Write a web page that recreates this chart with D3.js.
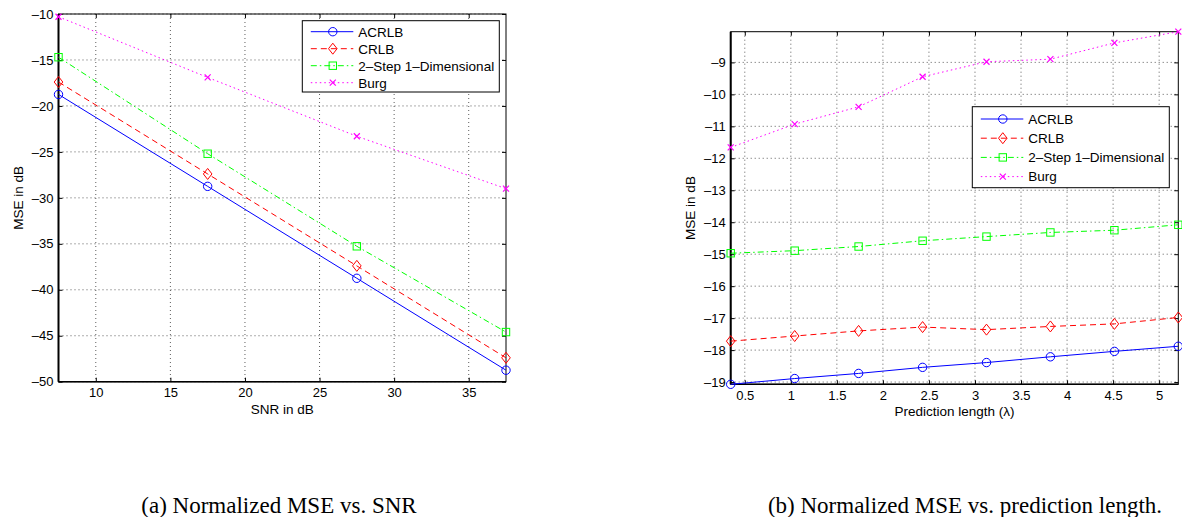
<!DOCTYPE html>
<html><head><meta charset="utf-8">
<script src="https://cdn.jsdelivr.net/npm/d3@7"></script>
<style>
body{margin:0;background:#fff}
svg{display:block}
text{font-family:"Liberation Sans",Arial,Helvetica,sans-serif;fill:#000}
</style>
</head><body>
<svg id="c" width="1182" height="517"></svg>
<script>
// ---------- data ----------
const seriesNames = ["ACRLB", "CRLB", "2\u2013Step 1\u2013Dimensional", "Burg"];

// panel (a): MSE vs SNR
const snr      = [7.5, 17.5, 27.5, 37.5];
const aAcrlb   = [-18.75, -28.75, -38.75, -48.75];
const aCrlb    = [-17.4, -27.4, -37.4, -47.4];
const aTwoStep = [-14.7, -25.2, -35.27, -44.6];
const aBurg    = [-10.3, -16.9, -23.3, -29.0];
const aXTicks  = [10, 15, 20, 25, 30, 35];
const aYTicks  = [-50, -45, -40, -35, -30, -25, -20, -15, -10];
const aYDomain = [-50, -10];

// panel (b): MSE vs prediction length
const lambda   = [0.347, 1.042, 1.736, 2.431, 3.125, 3.819, 4.514, 5.208];
const bAcrlb   = [-19.07, -18.89, -18.73, -18.54, -18.39, -18.21, -18.04, -17.88];
const bCrlb    = [-17.72, -17.56, -17.40, -17.28, -17.36, -17.26, -17.18, -16.98];
const bTwoStep = [-14.97, -14.89, -14.76, -14.58, -14.45, -14.32, -14.25, -14.08];
const bBurg    = [-11.66, -10.93, -10.39, -9.45, -8.98, -8.90, -8.39, -8.04];
const bXTicks  = [0.5, 1, 1.5, 2, 2.5, 3, 3.5, 4, 4.5, 5];
const bYTicks  = [-19, -18, -17, -16, -15, -14, -13, -12, -11, -10, -9];

const captions = ["(a) Normalized MSE vs. SNR", "(b) Normalized MSE vs. prediction length."];
const yLabel = "MSE in dB";
const xLabels = ["SNR in dB", "Prediction length (\u03bb)"];

// ---------- styles ----------
const colors  = ["#0000ff", "#ff0000", "#00ff00", "#ff00ff"];
const dashes  = [null, "6,4", "6,3,1.5,3", "1.5,3"];
const markers = ["circle", "diamond", "square", "x"];

const svg = d3.select("#c");
const fmt = d => String(d).replace("-", "\u2013");

function drawMarker(g, type, cx, cy, color) {
  if (type === "circle") {
    g.append("circle").attr("cx", cx).attr("cy", cy).attr("r", 4.2)
      .attr("fill", "none").attr("stroke", color).attr("stroke-width", 1);
  } else if (type === "diamond") {
    g.append("path").attr("d", `M${cx},${cy-5.5}L${cx+4.3},${cy}L${cx},${cy+5.5}L${cx-4.3},${cy}Z`)
      .attr("fill", "none").attr("stroke", color).attr("stroke-width", 1);
  } else if (type === "square") {
    g.append("rect").attr("x", cx-3.7).attr("y", cy-3.7).attr("width", 7.4).attr("height", 7.4)
      .attr("fill", "none").attr("stroke", color).attr("stroke-width", 1);
  } else {
    g.append("path").attr("d", `M${cx-3},${cy-3}L${cx+3},${cy+3}M${cx-3},${cy+3}L${cx+3},${cy-3}`)
      .attr("fill", "none").attr("stroke", color).attr("stroke-width", 1.2);
  }
}

function panel(cfg) {
  const {left, top, width, height, xs, ys, xDomain, yDomain, xTicks, yTicks, legend, xLabel, yLabelX, xLabelY, caption, captionX} = cfg;
  const x = d3.scaleLinear().domain(xDomain).range([left, left + width]);
  const y = d3.scaleLinear().domain(yDomain).range([top + height, top]);
  const g = svg.append("g");

  // grid
  const grid = g.append("g").attr("stroke", "#333").attr("stroke-width", 0.8).attr("stroke-dasharray", "1,3");
  xTicks.forEach(t => grid.append("line").attr("x1", x(t)).attr("x2", x(t)).attr("y1", top).attr("y2", top + height));
  yTicks.forEach(t => grid.append("line").attr("y1", y(t)).attr("y2", y(t)).attr("x1", left).attr("x2", left + width));

  // axes (inward ticks, all four sides)
  const ax = (gen, tr) => {
    const a = g.append("g").attr("transform", tr).call(gen);
    a.select(".domain").remove();
    a.selectAll("line").attr("stroke", "#000");
    a.selectAll("text").style("font-size", "13px").style("font-family", '"Liberation Sans",Arial,sans-serif');
    return a;
  };
  ax(d3.axisBottom(x).tickValues(xTicks).tickFormat(fmt).tickSizeInner(-4).tickSizeOuter(0).tickPadding(6), `translate(0,${top + height})`);
  ax(d3.axisTop(x).tickValues(xTicks).tickFormat("").tickSizeInner(-4).tickSizeOuter(0), `translate(0,${top})`);
  ax(d3.axisLeft(y).tickValues(yTicks).tickFormat(fmt).tickSizeInner(-4).tickSizeOuter(0).tickPadding(5), `translate(${left},0)`);
  ax(d3.axisRight(y).tickValues(yTicks).tickFormat("").tickSizeInner(-4).tickSizeOuter(0), `translate(${left + width},0)`);

  // box
  g.append("rect").attr("x", left).attr("y", top).attr("width", width).attr("height", height)
    .attr("fill", "none").attr("stroke", "#000").attr("stroke-width", 1);
  g.append("line").attr("x1", left).attr("x2", left).attr("y1", top).attr("y2", top + height)
    .attr("stroke", "#000").attr("stroke-width", 2);
  g.append("line").attr("x1", left).attr("x2", left + width).attr("y1", top + height).attr("y2", top + height)
    .attr("stroke", "#000").attr("stroke-width", 1.5);

  // series
  const line = d3.line().x(d => x(d[0])).y(d => y(d[1]));
  ys.forEach((vals, i) => {
    const pts = xs.map((xv, j) => [xv, vals[j]]);
    g.append("path").attr("d", line(pts)).attr("fill", "none").attr("stroke", colors[i])
      .attr("stroke-width", 1).attr("stroke-dasharray", dashes[i]);
    pts.forEach(p => drawMarker(g, markers[i], x(p[0]), y(p[1]), colors[i]));
  });

  // legend
  const lg = g.append("g");
  lg.append("rect").attr("x", legend.x).attr("y", legend.y).attr("width", legend.w).attr("height", legend.h)
    .attr("fill", "#fff").attr("stroke", "#000").attr("stroke-width", 1);
  seriesNames.forEach((name, i) => {
    const ry = legend.y + legend.first + i * legend.step;
    lg.append("line").attr("x1", legend.x + 8.5).attr("x2", legend.x + 51).attr("y1", ry).attr("y2", ry)
      .attr("stroke", colors[i]).attr("stroke-width", 1).attr("stroke-dasharray", dashes[i]);
    drawMarker(lg, markers[i], legend.x + 30.5, ry, colors[i]);
    lg.append("text").attr("x", legend.x + 56).attr("y", ry).attr("dy", "0.36em")
      .style("font-size", "13.5px").text(name);
  });

  // labels
  g.append("text").attr("transform", `translate(${yLabelX},${top + height / 2}) rotate(-90)`)
    .attr("text-anchor", "middle").style("font-size", "13.5px").text(yLabel);
  g.append("text").attr("x", left + width / 2).attr("y", xLabelY).attr("text-anchor", "middle")
    .style("font-size", "13.5px").text(xLabel);
  g.append("text").attr("x", captionX).attr("y", 513).attr("text-anchor", "middle")
    .style("font-family", '"Liberation Serif","Times New Roman",serif').style("font-size", "23px").text(caption);
}

panel({
  left: 58.5, top: 14, width: 447.5, height: 367.7,
  xs: snr, ys: [aAcrlb, aCrlb, aTwoStep, aBurg],
  xDomain: d3.extent(snr), yDomain: aYDomain,
  xTicks: aXTicks, yTicks: aYTicks,
  legend: {x: 302.3, y: 20.7, w: 197, h: 71.3, first: 11, step: 17},
  xLabel: xLabels[0], yLabelX: 23, xLabelY: 414,
  caption: captions[0], captionX: 279
});

const bAll = [].concat(bAcrlb, bCrlb, bTwoStep, bBurg);
panel({
  left: 730.7, top: 31.7, width: 447.6, height: 352.6,
  xs: lambda, ys: [bAcrlb, bCrlb, bTwoStep, bBurg],
  xDomain: d3.extent(lambda), yDomain: d3.extent(bAll),
  xTicks: bXTicks, yTicks: bYTicks,
  legend: {x: 972.3, y: 106.7, w: 197, h: 81, first: 12.3, step: 19.2},
  xLabel: xLabels[1], yLabelX: 695, xLabelY: 416,
  caption: captions[1], captionX: 965
});
</script>
</body></html>
